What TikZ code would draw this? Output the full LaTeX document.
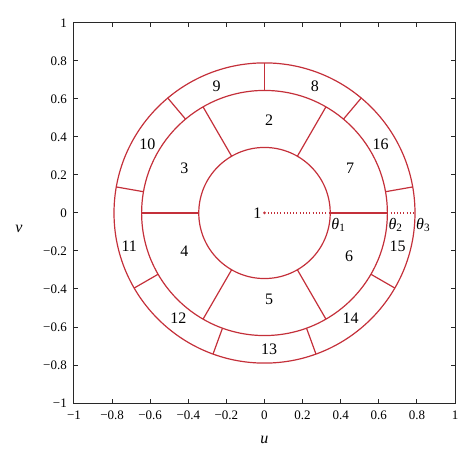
\documentclass[tikz,border=0pt]{standalone}
\usepackage{fontspec}
\setmainfont{Liberation Serif}
\usepackage{xcolor}
\usetikzlibrary{positioning}
\definecolor{ringred}{RGB}{196,48,58}
\definecolor{axisgray}{RGB}{40,40,40}

\begin{document}
\begin{tikzpicture}[x=190.5pt, y=190pt,
    ring/.style={draw=ringred, line width=1.2pt},
    raydot/.style={draw=ringred, line width=1.1pt, dash pattern=on 1pt off 2.2pt},
    region/.style={inner sep=0pt, font=\fontsize{16}{18}\selectfont},
    ticklabel/.style={inner sep=0pt, font=\fontsize{13}{15}\selectfont},
    axislabel/.style={inner sep=0pt, font=\fontsize{16}{18}\selectfont\itshape}]
    \useasboundingbox (-264.5pt,-247pt) rectangle (209.5pt,213pt);

    % Axes box and ticks
    \draw[axisgray, line width=1pt] (-1,-1) rectangle (1,1);
    \foreach \t/\s [count=\i] in {-1/−1,-0.8/−0.8,-0.6/−0.6,-0.4/−0.4,-0.2/−0.2,0/0,0.2/0.2,0.4/0.4,0.6/0.6,0.8/0.8,1/1} {
        \draw[axisgray, line width=1pt] (\t,-1) -- ++(0,4pt) (\t,1) -- ++(0,-4pt)
            (-1,\t) -- ++(4pt,0) (1,\t) -- ++(-4pt,0);
        \node[ticklabel, anchor=north, yshift=-8pt] (xt\i) at (\t,-1) {\s};
        \node[ticklabel, anchor=east, xshift=-7pt] (yt\i) at (-1,\t) {\s};
    }
    \node[axislabel] (ulab) at (0,-1.195) {u};
    \node[axislabel] (vlab) at (-1.289,-0.084) {v};

    % Rings
    \coordinate (O) at (0,0);
    \coordinate (T1) at (0:0.345);
    \coordinate (T2) at (0:0.645);
    \coordinate (T3) at (0:0.79);
    \draw[ring] (O) circle[radius=0.345];
    \draw[ring] (O) circle[radius=0.645];
    \draw[ring] (O) circle[radius=0.79];
    \foreach \a in {60,120,...,300}
        \draw[ring] (\a:0.345) -- (\a:0.645);
    \foreach \a in {10,50,...,330}
        \draw[ring] (\a:0.645) -- (\a:0.79);

    % Reference ray
    \draw[raydot] (O) -- (T1);
    \draw[ring] (T1) -- (T2);
    \draw[raydot] (T2) -- (T3);
    \fill[ringred] (O) circle[radius=1.5pt];
    \node[region, left=3pt of O] (one) {1};
    \node[region, below right=5pt and 1pt of T1] (th1) {\textit{θ}\textsubscript{1}};
    \node[region, below right=5pt and 1pt of T2] (th2) {\textit{θ}\textsubscript{2}};
    \node[region, below right=5pt and 1pt of T3] (th3) {\textit{θ}\textsubscript{3}};

    % Region numbers
    \foreach \n/\p in {2/{(0.024,0.49)}, 3/{(-0.421,0.235)}, 4/{(-0.421,-0.2)},
        5/{(0.024,-0.453)}, 6/{(0.444,-0.226)}, 7/{(0.449,0.235)},
        8/{(0.265,0.665)}, 9/{(-0.251,0.665)}, 10/{(-0.615,0.363)},
        11/{(-0.71,-0.174)}, 12/{(-0.452,-0.554)}, 13/{(0.024,-0.717)},
        14/{(0.452,-0.554)}, 15/{(0.699,-0.174)}, 16/{(0.61,0.363)}}
        \node[region] (r\n) at \p {\n};
\end{tikzpicture}
\end{document}
